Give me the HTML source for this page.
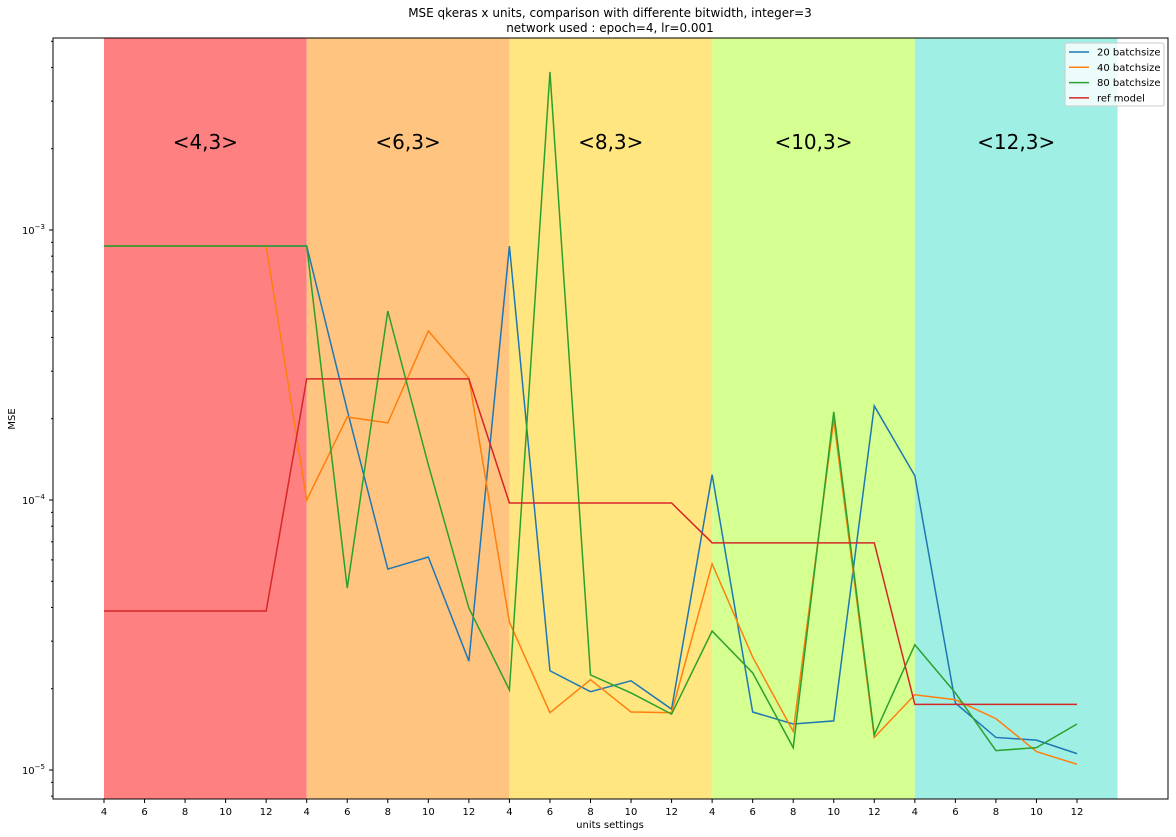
<!DOCTYPE html>
<html><head><meta charset="utf-8"><style>
body{margin:0;background:#fff;}
svg{display:block;font-family:"DejaVu Sans","Liberation Sans",sans-serif;}
</style></head><body>
<svg id="chart" width="1176" height="837">
<text x="610" y="17" text-anchor="middle" font-size="12">MSE qkeras x units, comparison with differente bitwidth, integer=3</text>
<text x="610" y="32" text-anchor="middle" font-size="12">network used : epoch=4, lr=0.001</text>
<g id="bands"></g><g id="grid"></g><g id="lines"></g><g id="axes"></g>
<text x="610" y="828" text-anchor="middle" font-size="10">units settings</text>
<text x="15" y="419" text-anchor="middle" font-size="10" transform="rotate(-90 15 419)">MSE</text>
</svg>
<script>
const xLabels=[4,6,8,10,12,4,6,8,10,12,4,6,8,10,12,4,6,8,10,12,4,6,8,10,12];
const bandLabels=["<4,3>","<6,3>","<8,3>","<10,3>","<12,3>"];
const bandColors=["#ff8080","#fec480","#ffe680","#d5ff91","#a0efe5"];
const s20=[8.72e-4,8.72e-4,8.72e-4,8.72e-4,8.72e-4,8.72e-4,2.15e-4,5.55e-5,6.15e-5,2.53e-5,8.72e-4,2.33e-5,1.95e-5,2.14e-5,1.68e-5,1.24e-4,1.64e-5,1.48e-5,1.52e-5,2.23e-4,1.23e-4,1.77e-5,1.32e-5,1.29e-5,1.15e-5];
const s40=[8.72e-4,8.72e-4,8.72e-4,8.72e-4,8.72e-4,1.0e-4,2.03e-4,1.93e-4,4.23e-4,2.83e-4,3.53e-5,1.63e-5,2.16e-5,1.64e-5,1.63e-5,5.8e-5,2.62e-5,1.39e-5,1.98e-4,1.32e-5,1.90e-5,1.82e-5,1.55e-5,1.17e-5,1.05e-5];
const s80=[8.72e-4,8.72e-4,8.72e-4,8.72e-4,8.72e-4,8.72e-4,4.72e-5,5.01e-4,1.35e-4,3.98e-5,1.98e-5,3.85e-3,2.25e-5,1.93e-5,1.61e-5,3.27e-5,2.29e-5,1.21e-5,2.12e-4,1.35e-5,2.91e-5,1.93e-5,1.18e-5,1.21e-5,1.48e-5];
const sRef=[3.88e-5,3.88e-5,3.88e-5,3.88e-5,3.88e-5,2.81e-4,2.81e-4,2.81e-4,2.81e-4,2.81e-4,9.75e-5,9.75e-5,9.75e-5,9.75e-5,9.75e-5,6.94e-5,6.94e-5,6.94e-5,6.94e-5,6.94e-5,1.75e-5,1.75e-5,1.75e-5,1.75e-5,1.75e-5];
const seriesNames=["20 batchsize","40 batchsize","80 batchsize","ref model"];
const seriesColors=["#1f77b4","#ff7f0e","#2ca02c","#d62728"];
const L=53,R=1168,T=38,B=799;
const NS="http://www.w3.org/2000/svg";
const X=i=>104+i*(1077-104)/24;
const Y=v=>230+(-3-Math.log10(v))*270;
function mk(tag,attrs,parent,text){const e=document.createElementNS(NS,tag);for(const k in attrs)e.setAttribute(k,attrs[k]);if(text!==undefined)e.textContent=text;parent.appendChild(e);return e;}
const bands=document.getElementById('bands');
bandLabels.forEach((lab,b)=>{
  const x0=X(b*5),x1=X(b*5+5);
  const r=mk('rect',{x:x0,y:T,width:x1-x0,height:B-T,fill:bandColors[b]},bands);
  
  
  const t=mk('text',{x:(x0+x1)/2,y:149,'text-anchor':'middle','font-size':20},bands,lab);
  
  
});
const lines=document.getElementById('lines');
[s20,s40,s80,sRef].forEach((s,k)=>{
  const p=mk('polyline',{points:s.map((v,i)=>X(i)+','+Y(v)).join(' '),fill:'none',stroke:seriesColors[k],'stroke-width':1.5},lines);
  
  
});
const ax=document.getElementById('axes');
mk('rect',{x:L,y:T,width:R-L,height:B-T,fill:'none',stroke:'#000','stroke-width':1},ax);
xLabels.forEach((l,i)=>{
  mk('line',{x1:X(i),x2:X(i),y1:B,y2:B+4,stroke:'#000'},ax);
  const t=mk('text',{x:X(i),y:B+16,'text-anchor':'middle','font-size':10},ax,l);
  
  
});
for(let e=-6;e<=-2;e++){
  for(let m=1;m<10;m++){
    const y=Y(m*Math.pow(10,e));
    if(y<T||y>B)continue;
    mk('line',{x1:L,x2:L-(m===1?4:2),y1:y,y2:y,stroke:'#000'},ax);
    if(m===1){
      const t=mk('text',{x:L-8,y:y+4,'text-anchor':'end','font-size':10},ax);
      
      
      t.innerHTML='10<tspan dy="-5" font-size="7">−'+(-e)+'</tspan>';
    }
  }
}
const lg=mk('g',{},ax);


mk('rect',{x:1065,y:43,width:99,height:63,fill:'#fff','fill-opacity':0.8,stroke:'#ccc',rx:2},lg);
seriesNames.forEach((n,k)=>{
  const y=52+k*15.3;
  mk('line',{x1:1069,x2:1089,y1:y,y2:y,stroke:seriesColors[k],'stroke-width':1.5},lg);
  const t=mk('text',{x:1097,y:y+3.5,'font-size':10},lg,n);
  
  
});
</script>
</body></html>
